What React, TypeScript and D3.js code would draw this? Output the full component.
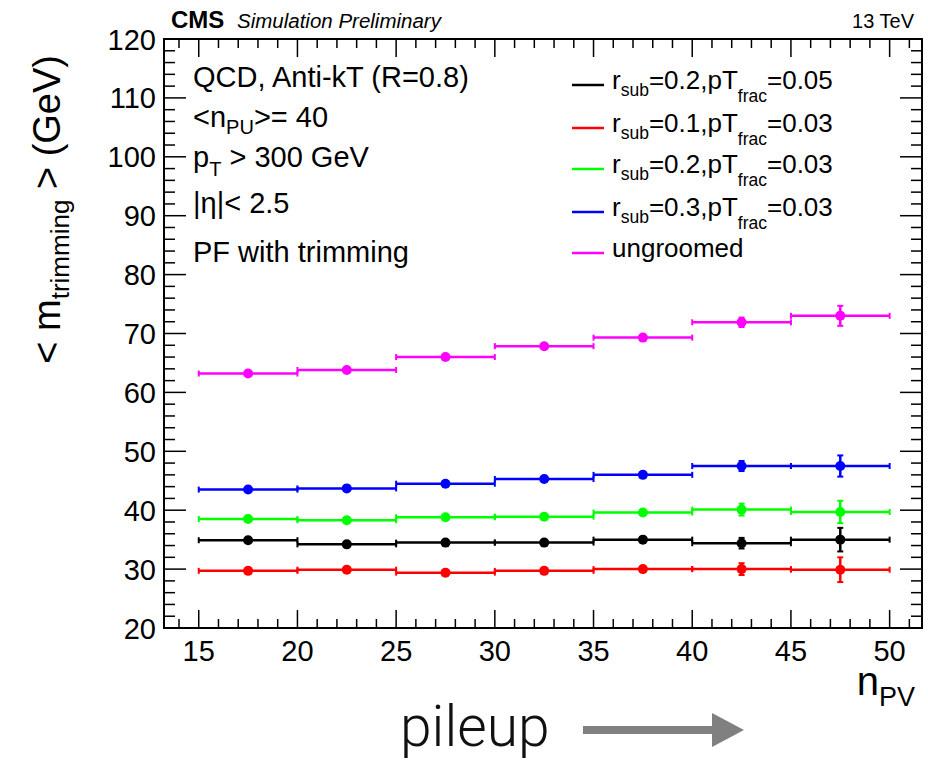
import { useEffect, useRef } from 'react'
import * as d3 from 'd3'

// bins of n_PV
const binEdges = [15, 20, 25, 30, 35, 40, 45, 50]
const xMajorTicks = [15, 20, 25, 30, 35, 40, 45, 50]
const yMajorTicks = [20, 30, 40, 50, 60, 70, 80, 90, 100, 110, 120]

// <m_trimming> per bin
const blackVals = [34.9, 34.2, 34.5, 34.5, 35.0, 34.4, 35.0]
const blackErrs = [0.3, 0.3, 0.3, 0.3, 0.4, 0.9, 2.0]
const redVals = [29.7, 29.9, 29.4, 29.7, 30.0, 30.0, 29.9]
const redErrs = [0.3, 0.3, 0.3, 0.3, 0.4, 1.0, 2.1]
const greenVals = [38.5, 38.3, 38.8, 38.9, 39.6, 40.1, 39.7]
const greenErrs = [0.3, 0.3, 0.3, 0.3, 0.4, 1.0, 1.9]
const blueVals = [43.5, 43.7, 44.5, 45.3, 46.0, 47.5, 47.5]
const blueErrs = [0.3, 0.3, 0.3, 0.3, 0.4, 0.85, 1.8]
const ungroomedVals = [63.2, 63.8, 66.0, 67.85, 69.3, 71.9, 73.0]
const ungroomedErrs = [0.3, 0.3, 0.3, 0.3, 0.4, 0.8, 1.7]

type Part = { t: string; sub?: number }

const series = [
  { color: '#000000', vals: blackVals, errs: blackErrs,
    label: [{ t: 'r' }, { t: 'sub', sub: 7 }, { t: '=0.2,pT' }, { t: 'frac', sub: 13 }, { t: '=0.05' }] },
  { color: '#ff0000', vals: redVals, errs: redErrs,
    label: [{ t: 'r' }, { t: 'sub', sub: 7 }, { t: '=0.1,pT' }, { t: 'frac', sub: 13 }, { t: '=0.03' }] },
  { color: '#00ff00', vals: greenVals, errs: greenErrs,
    label: [{ t: 'r' }, { t: 'sub', sub: 7 }, { t: '=0.2,pT' }, { t: 'frac', sub: 13 }, { t: '=0.03' }] },
  { color: '#0000ff', vals: blueVals, errs: blueErrs,
    label: [{ t: 'r' }, { t: 'sub', sub: 7 }, { t: '=0.3,pT' }, { t: 'frac', sub: 13 }, { t: '=0.03' }] },
  { color: '#ff00ff', vals: ungroomedVals, errs: ungroomedErrs,
    label: [{ t: 'ungroomed' }] },
]

const infoLines: Part[][] = [
  [{ t: 'QCD, Anti-kT (R=0.8)' }],
  [{ t: '<n' }, { t: 'PU', sub: 7 }, { t: '>= 40' }],
  [{ t: 'p' }, { t: 'T', sub: 9 }, { t: ' > 300 GeV' }],
  [{ t: '|η|< 2.5' }],
  [{ t: 'PF with trimming' }],
]

const FONT = "'Liberation Sans', Arial, Helvetica, sans-serif"

// text with subscripts
function richText(g: any, x: number, y: number, parts: Part[], size: number, subSize: number, anchor = 'start') {
  const txt = g.append('text')
    .attr('x', x).attr('y', y)
    .attr('font-family', FONT)
    .attr('font-size', size)
    .attr('text-anchor', anchor)
    .attr('fill', '#000')
  let shift = 0
  parts.forEach(p => {
    const target = p.sub || 0
    txt.append('tspan')
      .attr('dy', target - shift)
      .attr('font-size', p.sub ? subSize : size)
      .text(p.t)
    shift = target
  })
  return txt
}

export default function App() {
  const svgRef = useRef<SVGSVGElement | null>(null)

  useEffect(() => {
    if (!svgRef.current) return
    const W = 928, H = 761
    const frame = { left: 164, right: 922, top: 39, bottom: 628 }

    const svg = d3.select(svgRef.current)
    svg.selectAll('*').remove()
    svg.attr('width', W).attr('height', H)

    svg.append('rect').attr('width', W).attr('height', H).attr('fill', '#fff')

    const x = d3.scaleLinear().domain([13.24, 51.64]).range([frame.left, frame.right])
    const y = d3.scaleLinear().domain([20, 120]).range([frame.bottom, frame.top])

    // ticks (ROOT style, inside frame, mirrored)
    const ticks = svg.append('g').attr('stroke', '#000').attr('stroke-width', 1.5)
    const xMinor = d3.range(14, 52, 1)
    xMinor.forEach(v => {
      const len = xMajorTicks.includes(v) ? 18 : 9
      const px = x(v)
      ticks.append('line').attr('x1', px).attr('x2', px).attr('y1', frame.bottom).attr('y2', frame.bottom - len)
      ticks.append('line').attr('x1', px).attr('x2', px).attr('y1', frame.top).attr('y2', frame.top + len)
    })
    const yMinor = d3.range(20, 121, 2)
    yMinor.forEach(v => {
      const len = yMajorTicks.includes(v) ? 22 : 11
      const py = y(v)
      ticks.append('line').attr('x1', frame.left).attr('x2', frame.left + len).attr('y1', py).attr('y2', py)
      ticks.append('line').attr('x1', frame.right).attr('x2', frame.right - len).attr('y1', py).attr('y2', py)
    })

    // frame
    svg.append('rect')
      .attr('x', frame.left).attr('y', frame.top)
      .attr('width', frame.right - frame.left).attr('height', frame.bottom - frame.top)
      .attr('fill', 'none').attr('stroke', '#000').attr('stroke-width', 2)

    // tick labels
    svg.append('g').selectAll('text')
      .data(xMajorTicks).join('text')
      .attr('x', d => x(d)).attr('y', frame.bottom + 33)
      .attr('text-anchor', 'middle')
      .attr('font-family', FONT).attr('font-size', 29)
      .text(d => d)
    svg.append('g').selectAll('text')
      .data(yMajorTicks).join('text')
      .attr('x', frame.left - 8).attr('y', d => y(d) + 10.5)
      .attr('text-anchor', 'end')
      .attr('font-family', FONT).attr('font-size', 29)
      .text(d => d)

    // axis titles
    richText(svg, 915, 695, [{ t: 'n' }, { t: 'PV', sub: 11 }], 40, 27, 'end')
    const yt = svg.append('g').attr('transform', 'translate(60,55) rotate(-90)')
    richText(yt, 0, 0, [{ t: '< m' }, { t: 'trimming', sub: 9 }, { t: ' > (GeV)' }], 38, 26, 'end')

    // header
    svg.append('text').attr('x', 171).attr('y', 28)
      .attr('font-family', FONT).attr('font-weight', 'bold').attr('font-size', 24)
      .text('CMS')
    svg.append('text').attr('x', 237).attr('y', 28)
      .attr('font-family', FONT).attr('font-style', 'italic').attr('font-size', 20.5)
      .text('Simulation Preliminary')
    svg.append('text').attr('x', 914).attr('y', 28).attr('text-anchor', 'end')
      .attr('font-family', FONT).attr('font-size', 20)
      .text('13 TeV')

    // info block
    const infoY = [87, 127, 167, 213, 262]
    infoLines.forEach((parts, i) => richText(svg, 193, infoY[i], parts, 29, 20))

    // data
    const centers = binEdges.slice(0, -1).map((e, i) => (e + binEdges[i + 1]) / 2)
    series.forEach(s => {
      const g = svg.append('g').attr('stroke', s.color).attr('fill', s.color)
      s.vals.forEach((v, i) => {
        const x0 = x(binEdges[i]), x1 = x(binEdges[i + 1])
        const py = y(v)
        const cx = x(centers[i])
        g.append('line').attr('x1', x0).attr('x2', x1).attr('y1', py).attr('y2', py).attr('stroke-width', 2.5)
        g.append('line').attr('x1', x0).attr('x2', x0).attr('y1', py - 3).attr('y2', py + 3).attr('stroke-width', 2)
        g.append('line').attr('x1', x1).attr('x2', x1).attr('y1', py - 3).attr('y2', py + 3).attr('stroke-width', 2)
        const e = s.errs[i]
        const yTop = y(v + e), yBot = y(v - e)
        g.append('line').attr('x1', cx).attr('x2', cx).attr('y1', yTop).attr('y2', yBot).attr('stroke-width', 2.5)
        g.append('line').attr('x1', cx - 3).attr('x2', cx + 3).attr('y1', yTop).attr('y2', yTop).attr('stroke-width', 2)
        g.append('line').attr('x1', cx - 3).attr('x2', cx + 3).attr('y1', yBot).attr('y2', yBot).attr('stroke-width', 2)
        g.append('circle').attr('cx', cx).attr('cy', py).attr('r', 5).attr('stroke', 'none')
      })
    })

    // legend
    const legY = [85, 128, 169, 212, 253]
    series.forEach((s, i) => {
      svg.append('line')
        .attr('x1', 572).attr('x2', 604).attr('y1', legY[i]).attr('y2', legY[i])
        .attr('stroke', s.color).attr('stroke-width', 2.5)
      richText(svg, 612, legY[i] + 4, s.label, 26, 17.5)
    })

    // pileup annotation
    svg.append('text').attr('x', 400).attr('y', 746)
      .attr('font-family', "Roboto, 'Liberation Sans', sans-serif").attr('font-weight', 300)
      .attr('font-size', 57).attr('fill', '#111')
      .text('pileup')
    const ay = 730
    svg.append('path')
      .attr('d', `M583,${ay - 4} L712,${ay - 4} L712,${ay - 17} L744,${ay} L712,${ay + 17} L712,${ay + 4} L583,${ay + 4} Z`)
      .attr('fill', '#808080')
  }, [])

  return <svg ref={svgRef} style={{ position: 'absolute', left: 0, top: 0 }} />
}
